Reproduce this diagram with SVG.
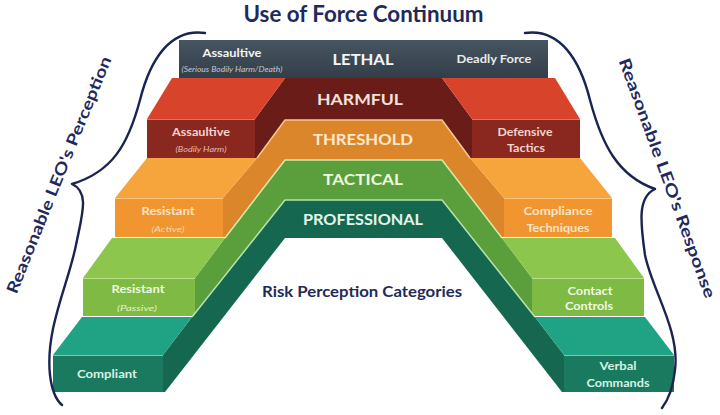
<svg xmlns="http://www.w3.org/2000/svg" width="720" height="415" viewBox="0 0 720 415">
<style>
text{font-family:Lato,"Open Sans","Liberation Sans",sans-serif;text-anchor:middle}
.b{font-weight:bold}
.i{font-style:italic}
.band{font-weight:bold;font-size:16px}
.lbl{font-weight:bold;font-size:12px}
.sub{font-style:italic;font-size:8px}
.navy{fill:#1f2a5c}
.hl{fill:none;stroke-width:1.5;stroke-linejoin:round}
.brace{fill:none;stroke:#1a2452;stroke-width:2.4;stroke-linecap:round;stroke-linejoin:round}
</style>
<defs>
<linearGradient id="gLethal" x1="0" y1="0" x2="0" y2="1">
<stop offset="0" stop-color="#475561"/>
<stop offset="1" stop-color="#323e48"/>
</linearGradient>
</defs>
<rect width="720" height="415" fill="#ffffff"/>

<text id="title" class="b navy" x="363.5" y="22" font-size="22" textLength="240" lengthAdjust="spacingAndGlyphs">Use of Force Continuum</text>

<g id="layer-lethal">
<rect x="179" y="40" width="369" height="38" fill="url(#gLethal)"/>
<text class="lbl" x="232" y="57" fill="#f2f4f5" textLength="59" lengthAdjust="spacingAndGlyphs">Assaultive</text>
<text class="i" x="232" y="71.5" font-size="7.5" fill="#c3c9ce" textLength="101" lengthAdjust="spacingAndGlyphs">(Serious Bodily Harm/Death)</text>
<text class="band" x="363" y="65" fill="#f4f5f6" textLength="61" lengthAdjust="spacingAndGlyphs">LETHAL</text>
<text class="lbl" x="494" y="63" font-size="12.5" fill="#e8ebee" textLength="75" lengthAdjust="spacingAndGlyphs">Deadly Force</text>
</g>

<g id="layer-harmful">
<polygon points="255,158 255,119 285,78 442,78 472,119 472,158" fill="#6a1c18"/>
<polygon points="172,78 285,78 255,119 147,119" fill="#d8432c"/>
<polygon points="555,78 442,78 472,119 580,119" fill="#d8432c"/>
<rect x="147" y="119" width="108" height="39" fill="#8a2820"/>
<rect x="472" y="119" width="108" height="39" fill="#8a2820"/>
<line x1="147" y1="119.5" x2="255" y2="119.5" stroke="#e8705a" stroke-width="1"/>
<line x1="472" y1="119.5" x2="580" y2="119.5" stroke="#e8705a" stroke-width="1"/>
<text class="band" x="360" y="105" fill="#f6e0db" textLength="86" lengthAdjust="spacingAndGlyphs">HARMFUL</text>
<text class="lbl" x="201" y="136" fill="#f4d4cd" textLength="58" lengthAdjust="spacingAndGlyphs">Assaultive</text>
<text class="sub" x="201" y="152" fill="#e6b9b0" textLength="51" lengthAdjust="spacingAndGlyphs">(Bodily Harm)</text>
<text class="lbl" x="525" y="136" fill="#f4d4cd" textLength="55" lengthAdjust="spacingAndGlyphs">Defensive</text>
<text class="lbl" x="526" y="152" fill="#f4d4cd" textLength="38" lengthAdjust="spacingAndGlyphs">Tactics</text>
</g>

<g id="layer-threshold">
<polygon points="223,237 223,198 257,158 285,120 442,120 470,158 504,198 504,237" fill="#dc862c"/>
<polygon points="147,158 257,158 223,198 115,198" fill="#f6a43c"/>
<polygon points="580,158 470,158 504,198 612,198" fill="#f6a43c"/>
<rect x="115" y="198" width="108" height="39" fill="#f19530"/>
<rect x="504" y="198" width="108" height="39" fill="#f19530"/>
<polyline class="hl" points="257,158 285,120 442,120 470,158" stroke="#f7c98c"/>
<line x1="115" y1="198.5" x2="223" y2="198.5" stroke="#fbc57e" stroke-width="1"/>
<line x1="504" y1="198.5" x2="612" y2="198.5" stroke="#fbc57e" stroke-width="1"/>
<text class="band" x="363" y="145" fill="#fde8cb" textLength="100" lengthAdjust="spacingAndGlyphs">THRESHOLD</text>
<text class="lbl" x="168" y="215" fill="#fde4c3" textLength="53" lengthAdjust="spacingAndGlyphs">Resistant</text>
<text class="sub" x="168" y="232" font-size="8.5" fill="#fcd9a8" textLength="33" lengthAdjust="spacingAndGlyphs">(Active)</text>
<text class="lbl" x="558" y="215" fill="#fde4c3" textLength="69" lengthAdjust="spacingAndGlyphs">Compliance</text>
<text class="lbl" x="558" y="232" fill="#fde4c3" textLength="63" lengthAdjust="spacingAndGlyphs">Techniques</text>
</g>

<g id="layer-tactical">
<polygon points="195,316 195,278 225,238 285,160 442,160 502,238 532,278 532,316" fill="#5b9f3c"/>
<polygon points="112,238 225,238 195,278 83,278" fill="#8dc64c"/>
<polygon points="615,238 502,238 532,278 644,278" fill="#8dc64c"/>
<rect x="83" y="278" width="112" height="38" fill="#7fba44"/>
<rect x="532" y="278" width="112" height="38" fill="#7fba44"/>
<polyline class="hl" points="225,238 285,160 442,160 502,238" stroke="#d6eba8"/>
<line x1="83" y1="278.5" x2="195" y2="278.5" stroke="#b9df86" stroke-width="1"/>
<line x1="532" y1="278.5" x2="644" y2="278.5" stroke="#b9df86" stroke-width="1"/>
<text class="band" x="363" y="185" fill="#eef8dd" textLength="80" lengthAdjust="spacingAndGlyphs">TACTICAL</text>
<text class="lbl" x="138" y="293" fill="#f0f8e2" textLength="53" lengthAdjust="spacingAndGlyphs">Resistant</text>
<text class="sub" x="137" y="311" font-size="8.5" fill="#e2f2c6" textLength="40" lengthAdjust="spacingAndGlyphs">(Passive)</text>
<text class="lbl" x="590" y="295" fill="#f0f8e2" textLength="45" lengthAdjust="spacingAndGlyphs">Contact</text>
<text class="lbl" x="589" y="310" fill="#f0f8e2" textLength="48" lengthAdjust="spacingAndGlyphs">Controls</text>
</g>

<g id="layer-professional">
<polygon points="163,392 163,355 192,317 285,200 442,200 535,317 564,355 564,392" fill="#15684f"/>
<polygon points="82,317 192,317 163,355 53,355" fill="#20a284"/>
<polygon points="645,317 535,317 564,355 674,355" fill="#20a284"/>
<rect x="53" y="355" width="110" height="37" fill="#197a5f"/>
<rect x="564" y="355" width="110" height="37" fill="#197a5f"/>
<polyline class="hl" points="192,317 285,200 442,200 535,317" stroke="#b8e2ae"/>
<line x1="53" y1="355.5" x2="163" y2="355.5" stroke="#6fcfae" stroke-width="1"/>
<line x1="564" y1="355.5" x2="674" y2="355.5" stroke="#6fcfae" stroke-width="1"/>
<text class="band" x="363" y="225" fill="#e2f4ec" textLength="120" lengthAdjust="spacingAndGlyphs">PROFESSIONAL</text>
<text class="lbl" x="107" y="378" font-size="12.5" fill="#d8f1e5" textLength="60" lengthAdjust="spacingAndGlyphs">Compliant</text>
<text class="lbl" x="618" y="370" fill="#d8f1e5" textLength="37" lengthAdjust="spacingAndGlyphs">Verbal</text>
<text class="lbl" x="618" y="387" fill="#d8f1e5" textLength="63" lengthAdjust="spacingAndGlyphs">Commands</text>
</g>

<g id="interior">
<polygon points="285,238 442,238 562,392 165,392" fill="#ffffff"/>
<text class="b navy" x="362" y="297" font-size="15" textLength="200" lengthAdjust="spacingAndGlyphs">Risk Perception Categories</text>
</g>

<g id="connectors">
<path class="brace" d="M205,33 C170,28 150,60 140,100 C128,145 112,172 72,184 C90,192 82,215 76,245 C68,285 45,330 50,375 C52,392 56,400 62,405"/>
<path class="brace" d="M525,33 C560,28 580,60 590,100 C602,145 618,176 655,189 C638,197 640,220 645,255 C652,290 680,330 675,370 C673,390 668,400 662,408"/>
</g>

<g id="label-perception">
<text class="b navy" font-size="16" transform="translate(64,177) rotate(-68)" textLength="254" lengthAdjust="spacingAndGlyphs">Reasonable LEO's Perception</text>
</g>
<g id="label-response">
<text class="b navy" font-size="16" transform="translate(662,180) rotate(70)" textLength="254" lengthAdjust="spacingAndGlyphs">Reasonable LEO's Response</text>
</g>
</svg>
